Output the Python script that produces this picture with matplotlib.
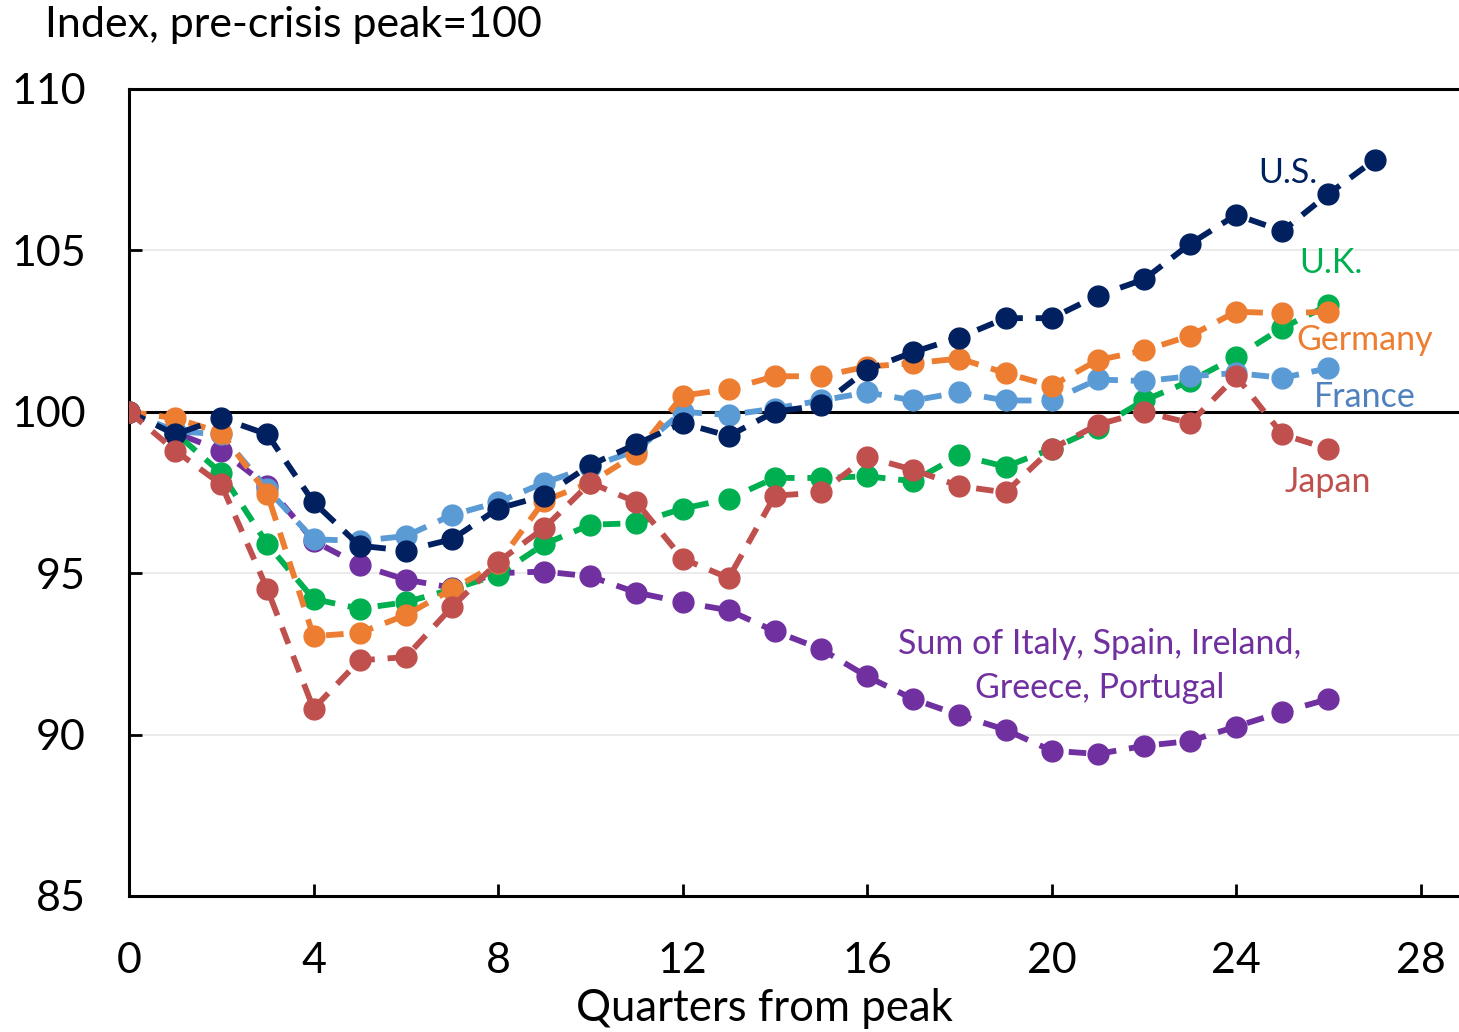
import numpy as np
import matplotlib
matplotlib.use('Agg')
import matplotlib.pyplot as plt

plt.rcParams['font.family'] = ['Lato', 'DejaVu Sans']

quarters = np.arange(0, 28)

us = [100, 99.3, 99.8, 99.3, 97.2, 95.85, 95.7, 96.05, 97.0, 97.4, 98.35, 99.0, 99.65, 99.25,
      100.0, 100.2, 101.3, 101.85, 102.3, 102.9, 102.9, 103.6, 104.1, 105.2, 106.1, 105.6, 106.75, 107.8]
uk = [100, 99.35, 98.1, 95.9, 94.2, 93.9, 94.1, 94.5, 94.95, 95.9, 96.5, 96.55, 97.0, 97.3,
      97.95, 97.95, 98.0, 97.85, 98.65, 98.3, 98.85, 99.5, 100.35, 100.95, 101.7, 102.6, 103.3]
germany = [100, 99.8, 99.35, 97.45, 93.05, 93.15, 93.7, 94.5, 95.3, 97.25, 97.8, 98.7, 100.5, 100.7,
           101.1, 101.1, 101.4, 101.5, 101.65, 101.2, 100.8, 101.6, 101.9, 102.35, 103.1, 103.05, 103.1]
france = [100, 99.4, 99.3, 97.6, 96.05, 96.0, 96.15, 96.8, 97.2, 97.8, 98.3, 98.8, 100.0, 99.9,
          100.1, 100.35, 100.6, 100.35, 100.6, 100.35, 100.35, 101.0, 100.95, 101.1, 101.2, 101.05, 101.35]
japan = [100, 98.8, 97.75, 94.5, 90.8, 92.3, 92.4, 93.95, 95.35, 96.4, 97.8, 97.2, 95.45, 94.85,
         97.4, 97.5, 98.6, 98.2, 97.7, 97.5, 98.85, 99.6, 100.0, 99.65, 101.1, 99.3, 98.85]
periphery = [100, 99.35, 98.8, 97.7, 96.0, 95.25, 94.8, 94.55, 95.0, 95.05, 94.9, 94.4, 94.1, 93.85,
             93.2, 92.65, 91.8, 91.1, 90.6, 90.15, 89.5, 89.4, 89.65, 89.8, 90.25, 90.7, 91.1]

series = [
    ('periphery', periphery, '#7030A0'),
    ('uk', uk, '#00B050'),
    ('france', france, '#5B9BD5'),
    ('germany', germany, '#ED7D31'),
    ('us', us, '#002060'),
    ('japan', japan, '#C0504D'),
]

fig = plt.figure(figsize=(14.59, 10.32), dpi=100)
ax = fig.add_axes([0.0884, 0.1318, 0.9116, 0.782])

for yv in [90, 95, 105]:
    ax.axhline(yv, color='#e8e8e8', linewidth=1.2, zorder=0)
ax.axhline(100, color='black', linewidth=2.2, zorder=1)

for name, vals, col in series:
    ax.plot(quarters[:len(vals)], vals, color=col, linewidth=4.2, linestyle=(0, (3, 2.2)),
            marker='o', markersize=15, zorder=3)

ax.set_xlim(0, 28.83)
ax.set_ylim(85, 110)
ax.set_xticks(range(0, 29, 4))
ax.set_yticks(range(85, 111, 5))
ax.tick_params(direction='in', length=9, width=2, labelsize=31)
ax.tick_params(axis='x', pad=33)
ax.tick_params(axis='y', pad=31)
for s in ['left', 'bottom', 'top']:
    ax.spines[s].set_linewidth(2.2)
ax.spines['right'].set_visible(False)

ax.set_xlabel('Quarters from peak', fontsize=31.5, va='center')
ax.xaxis.set_label_coords(13.78 / 28.83, -0.139)
fig.text(0.031, 0.976, 'Index, pre-crisis peak=100', fontsize=31, va='center', ha='left')

lab = dict(fontsize=24.5, ha='center', va='center')
ax.text(25.12, 107.4, 'U.S.', color='#002060', **lab)
ax.text(26.05, 104.6, 'U.K.', color='#00B050', **lab)
ax.text(26.79, 102.23, 'Germany', color='#ED7D31', **lab)
ax.text(26.79, 100.46, 'France', color='#4F81BD', **lab)
ax.text(25.99, 97.83, 'Japan', color='#C0504D', **lab)
ax.text(21.04, 92.13, 'Sum of Italy, Spain, Ireland,\nGreece, Portugal', color='#7030A0',
        fontsize=24.5, ha='center', va='center', linespacing=1.45)

fig.savefig('out.png', dpi=100)
